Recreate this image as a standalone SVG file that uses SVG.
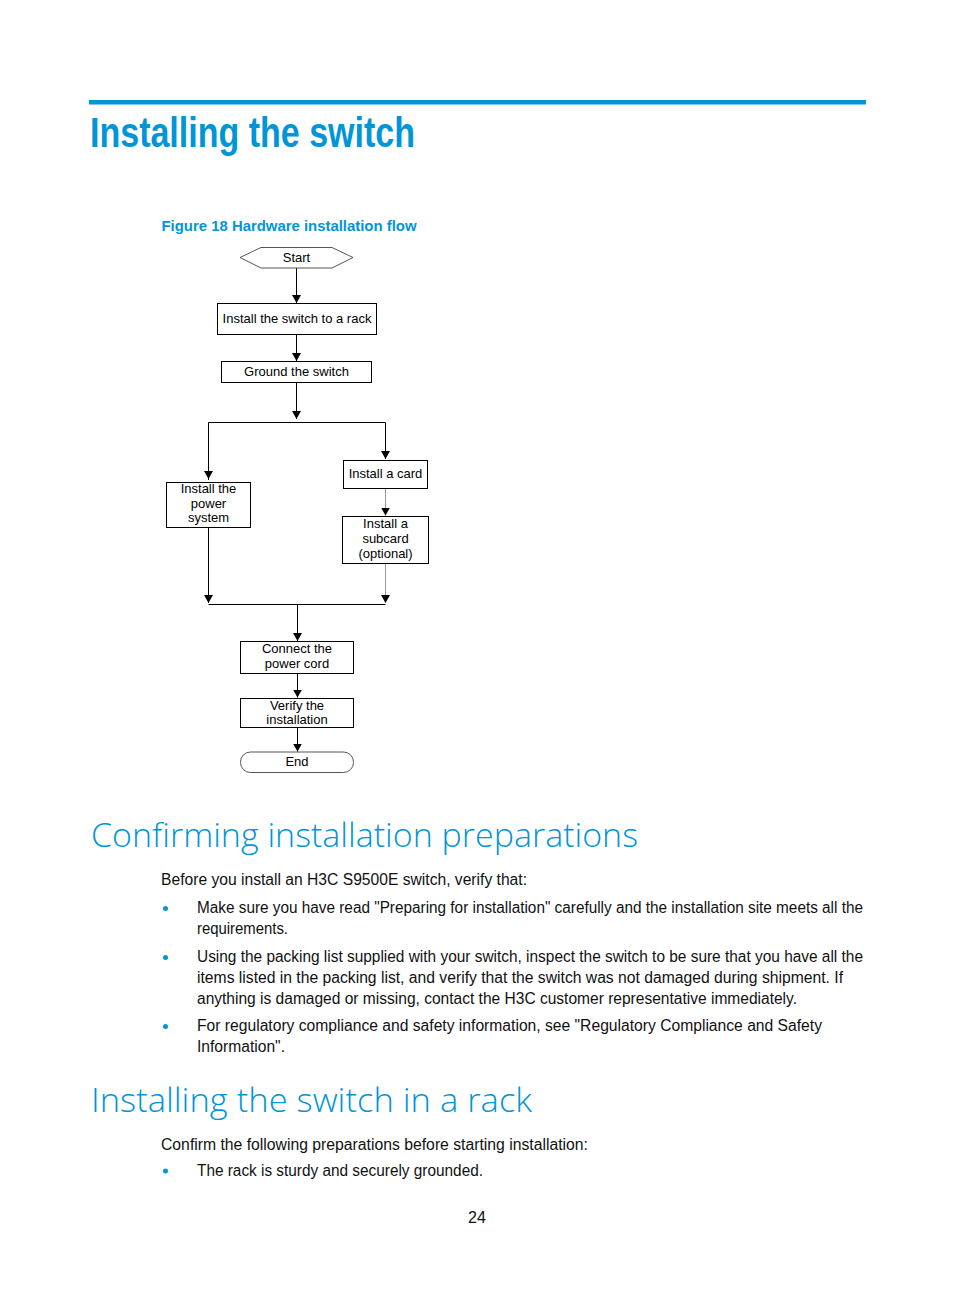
<svg xmlns="http://www.w3.org/2000/svg" width="954" height="1296" viewBox="0 0 954 1296">
<style>
.h1{font-family:"Liberation Sans",Arial,sans-serif;font-weight:bold;font-size:42px;fill:#0096d6}
.h2{font-family:"Open Sans","Liberation Sans",sans-serif;font-weight:300;font-size:33px;fill:#0096d6}
.cap{font-family:"Liberation Sans",Arial,sans-serif;font-weight:bold;font-size:15.5px;fill:#0096d6}
.body{font-family:"Liberation Sans",Arial,sans-serif;font-size:16px;fill:#111}
.n{font-family:"Liberation Sans",Arial,sans-serif;font-size:13px;fill:#000;text-anchor:middle}
.box{fill:#fff;stroke:#000;stroke-width:1}
.term{fill:#fff;stroke:#555;stroke-width:1}
.ln{fill:none;stroke:#000;stroke-width:1}
.lg{fill:none;stroke:#999;stroke-width:1}
.dot{fill:#0096d6}
</style>
<defs>
<marker id="ah" viewBox="0 0 8 9" refX="8" refY="4.5" markerWidth="8" markerHeight="9" markerUnits="userSpaceOnUse" orient="auto">
<path d="M0,0 L8,4.5 L0,9 Z" fill="#000"/>
</marker>
</defs>
<rect x="89" y="100" width="777" height="4.5" fill="#0096d6"/>
<text class="h1" x="90" y="147" textLength="325" lengthAdjust="spacingAndGlyphs">Installing the switch</text>
<text class="cap" x="161.5" y="230.7" textLength="255" lengthAdjust="spacingAndGlyphs">Figure 18 Hardware installation flow</text>

<g id="connectors">
<line class="ln" x1="296.5" y1="268" x2="296.5" y2="303" marker-end="url(#ah)"/>
<line class="ln" x1="296.5" y1="334" x2="296.5" y2="361" marker-end="url(#ah)"/>
<line class="ln" x1="296.5" y1="382.5" x2="296.5" y2="419" marker-end="url(#ah)"/>
<polyline class="ln" points="208.5,480 208.5,422.5 385.5,422.5 385.5,459"/>
<line class="ln" x1="208.5" y1="470" x2="208.5" y2="479" marker-end="url(#ah)"/>
<line class="ln" x1="385.5" y1="450" x2="385.5" y2="459" marker-end="url(#ah)"/>
<line class="lg" x1="385.5" y1="488.5" x2="385.5" y2="515.5" marker-end="url(#ah)"/>
<line class="ln" x1="208.5" y1="527.5" x2="208.5" y2="603" marker-end="url(#ah)"/>
<line class="lg" x1="385.5" y1="563.5" x2="385.5" y2="603" marker-end="url(#ah)"/>
<line class="ln" x1="208.5" y1="604.5" x2="385.5" y2="604.5"/>
<line class="ln" x1="297.5" y1="604.5" x2="297.5" y2="641" marker-end="url(#ah)"/>
<line class="ln" x1="297.5" y1="673.5" x2="297.5" y2="697.5" marker-end="url(#ah)"/>
<line class="ln" x1="297.5" y1="727.5" x2="297.5" y2="751.5" marker-end="url(#ah)"/>
</g>

<g id="start">
<polygon class="term" points="240,257.5 261,247.5 332,247.5 353,257.5 332,268 261,268"/>
<text class="n" x="296.5" y="261.5">Start</text>
</g>
<g id="rack">
<rect class="box" x="217.5" y="303.5" width="159" height="31"/>
<text class="n" x="297" y="322.5">Install the switch to a rack</text>
</g>
<g id="ground">
<rect class="box" x="221.5" y="361.5" width="150" height="21"/>
<text class="n" x="296.5" y="376">Ground the switch</text>
</g>
<g id="power">
<rect class="box" x="166.5" y="482.5" width="84" height="45"/>
<text class="n" x="208.5" y="493">Install the</text>
<text class="n" x="208.5" y="507.5">power</text>
<text class="n" x="208.5" y="522">system</text>
</g>
<g id="card">
<rect class="box" x="343.5" y="460.5" width="84" height="28"/>
<text class="n" x="385.5" y="477.5">Install a card</text>
</g>
<g id="subcard">
<rect class="box" x="342.5" y="516.5" width="86" height="47"/>
<text class="n" x="385.5" y="527.5">Install a</text>
<text class="n" x="385.5" y="543">subcard</text>
<text class="n" x="385.5" y="558">(optional)</text>
</g>
<g id="cord">
<rect class="box" x="240.5" y="641.5" width="113" height="32"/>
<text class="n" x="297" y="653">Connect the</text>
<text class="n" x="297" y="668">power cord</text>
</g>
<g id="verify">
<rect class="box" x="240.5" y="698.5" width="113" height="29"/>
<text class="n" x="297" y="709.5">Verify the</text>
<text class="n" x="297" y="723.5">installation</text>
</g>
<g id="end">
<rect class="term" x="240.5" y="752" width="113" height="20.5" rx="10" ry="10"/>
<text class="n" x="297" y="765.5">End</text>
</g>

<text class="h2" x="91" y="847" textLength="547" lengthAdjust="spacingAndGlyphs">Confirming installation preparations</text>
<text class="body" x="161" y="885" textLength="366" lengthAdjust="spacingAndGlyphs">Before you install an H3C S9500E switch, verify that:</text>
<circle class="dot" cx="165.5" cy="908.5" r="2.5"/>
<text class="body" x="197" y="913" textLength="666" lengthAdjust="spacingAndGlyphs">Make sure you have read "Preparing for installation" carefully and the installation site meets all the</text>
<text class="body" x="197" y="934" textLength="91" lengthAdjust="spacingAndGlyphs">requirements.</text>
<circle class="dot" cx="165.5" cy="957.5" r="2.5"/>
<text class="body" x="197" y="962" textLength="666" lengthAdjust="spacingAndGlyphs">Using the packing list supplied with your switch, inspect the switch to be sure that you have all the</text>
<text class="body" x="197" y="983" textLength="646" lengthAdjust="spacingAndGlyphs">items listed in the packing list, and verify that the switch was not damaged during shipment. If</text>
<text class="body" x="197" y="1004" textLength="600" lengthAdjust="spacingAndGlyphs">anything is damaged or missing, contact the H3C customer representative immediately.</text>
<circle class="dot" cx="165.5" cy="1026.5" r="2.5"/>
<text class="body" x="197" y="1031" textLength="625" lengthAdjust="spacingAndGlyphs">For regulatory compliance and safety information, see "Regulatory Compliance and Safety</text>
<text class="body" x="197" y="1052" textLength="88" lengthAdjust="spacingAndGlyphs">Information".</text>

<text class="h2" x="91" y="1112" textLength="441" lengthAdjust="spacingAndGlyphs">Installing the switch in a rack</text>
<text class="body" x="161" y="1150" textLength="427" lengthAdjust="spacingAndGlyphs">Confirm the following preparations before starting installation:</text>
<circle class="dot" cx="165.5" cy="1171" r="2.5"/>
<text class="body" x="197" y="1175.5" textLength="286" lengthAdjust="spacingAndGlyphs">The rack is sturdy and securely grounded.</text>
<text class="body" x="477" y="1223" text-anchor="middle">24</text>
</svg>
